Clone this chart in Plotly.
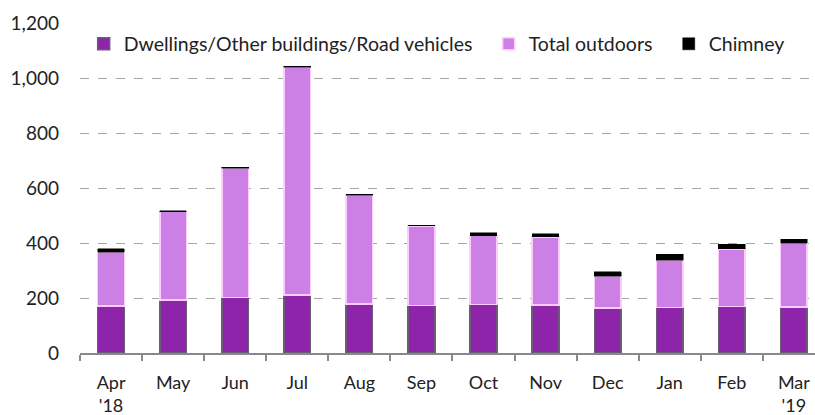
import plotly.graph_objects as go

months = ["Apr<br>'18", "May", "Jun", "Jul", "Aug", "Sep", "Oct", "Nov", "Dec", "Jan", "Feb", "Mar<br>'19"]
dwellings = [171, 193, 201, 211, 178, 173, 176, 175, 164, 165, 170, 168]
outdoors = [195, 321, 471, 829, 396, 289, 251, 247, 116, 173, 209, 231]
chimney = [14, 3, 3, 2, 3, 3, 10, 12, 15, 21, 16, 15]

FONT = "Lato"

fig = go.Figure()
fig.add_trace(go.Bar(
    x=months, y=dwellings, name="Dwellings/Other buildings/Road vehicles",
    marker=dict(color="#8e24aa", line=dict(color="#6b5a78", width=1.5)),
    legend="legend",
))
fig.add_trace(go.Bar(
    x=months, y=outdoors, name="Total outdoors",
    marker=dict(color="#cc80e6", line=dict(color="#ffccff", width=1.5)),
    legend="legend2",
))
fig.add_trace(go.Bar(
    x=months, y=chimney, name="Chimney",
    marker=dict(color="#000000", line=dict(color="#000000", width=0.5)),
    legend="legend3",
))

leg = dict(orientation="h", y=0.936, xanchor="left", yanchor="middle",
           bgcolor="rgba(0,0,0,0)", font=dict(size=19.5), itemwidth=30)

fig.update_layout(
    barmode="stack",
    bargap=0.57,
    width=815, height=415,
    margin=dict(l=80, r=0, t=23, b=62),
    plot_bgcolor="white", paper_bgcolor="white",
    font=dict(family=FONT, size=19, color="#222222"),
    legend=dict(leg, x=0.005),
    legend2=dict(leg, x=0.556),
    legend3=dict(leg, x=0.801),
    showlegend=True,
)
fig.update_xaxes(
    range=[-0.5, 11.34], showline=True, linecolor="#898989", linewidth=2,
    ticks="outside", tickson="boundaries", ticklen=6, tickcolor="#898989", tickwidth=2,
    showgrid=False, tickangle=0, ticklabelstandoff=12, ticklabeloverflow="allow",
    tickfont=dict(size=18), automargin=False,
)
fig.update_yaxes(
    range=[0, 1200], dtick=200, tickformat=",", showgrid=True,
    gridcolor="#a6a6a6", griddash="dash", gridwidth=1, zeroline=False,
    showline=False, ticks="", ticklabelstandoff=20, automargin=False,
)
# drop the default page margin so the figure sits at the window corner
fig.write_html(
    "out.html",
    config={"displayModeBar": False},
    post_script="document.body.style.margin='0';document.body.style.overflow='hidden';",
)
